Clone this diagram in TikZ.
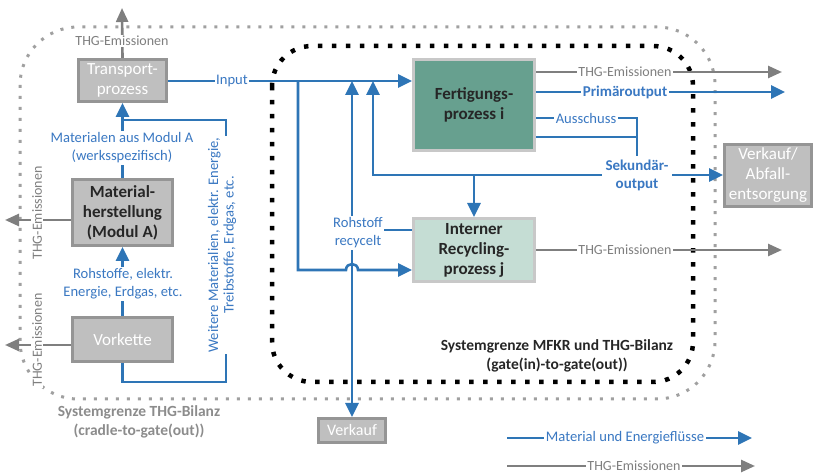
\documentclass[tikz,border=0pt]{standalone}
\usepackage{fontspec}
\setmainfont{Carlito}
\usetikzlibrary{arrows.meta}
\definecolor{fblue}{HTML}{2E75B6}
\definecolor{tblue}{HTML}{3A78C2}
\definecolor{lgray}{HTML}{7F7F7F}
\definecolor{dotgray}{HTML}{A0A0A0}
\definecolor{boxfill}{HTML}{BFBFBF}
\definecolor{boxedge}{HTML}{959595}
\definecolor{tealfill}{HTML}{67A08F}
\definecolor{mintfill}{HTML}{C5DDD4}
\definecolor{lightedge}{HTML}{C8C8C8}
\definecolor{darktext}{HTML}{262626}
\pgfdeclarelayer{back}
\pgfdeclarelayer{lines}
\pgfsetlayers{back,lines,main}
\begin{document}
\begin{tikzpicture}[x=1pt,y=-1pt,
  box/.style={line width=3pt, align=center, inner sep=0pt, font=\fontsize{17}{20}\selectfont},
  graybox/.style={box, draw=boxedge, fill=boxfill, text=white},
  matbox/.style={box, draw=boxedge, fill=boxfill, text=darktext, font=\fontsize{17}{20}\selectfont\bfseries},
  procbox/.style={box, draw=lightedge, text=darktext, font=\fontsize{17}{20}\selectfont\bfseries},
  bl/.style={draw=fblue, line width=2.6pt},
  gl/.style={draw=lgray, line width=2.6pt},
  barrow/.style={bl, -{Triangle[length=14pt,width=13pt]}},
  garrow/.style={gl, -{Triangle[length=14pt,width=12pt]}},
  blab/.style={fill=white, inner sep=1.5pt, text=tblue, align=center, font=\fontsize{14.6}{18}\selectfont},
  blabb/.style={blab, font=\fontsize{15}{18}\selectfont\bfseries},
  glab/.style={fill=white, inner sep=1.5pt, text=lgray, align=center, font=\fontsize{14}{17}\selectfont},
  bound/.style={align=center, font=\fontsize{15.5}{19}\selectfont\bfseries}
]
\useasboundingbox (0,0) rectangle (815,473);

% boundaries
\begin{pgfonlayer}{back}
\draw[dotgray, line width=3pt, dash pattern=on 3pt off 8pt, rounded corners=58pt] (20,27) rectangle (715,399);
\draw[black, line width=4.5pt, dash pattern=on 4.5pt off 9.5pt, rounded corners=40pt] (272,46) rectangle (693,382);
\end{pgfonlayer}

% boxes
\node[graybox, minimum width=88pt, minimum height=42pt] (tr) at (122.5,80.5) {Transport-\\prozess};
\node[matbox, minimum width=100pt, minimum height=66pt] (mh) at (122.5,212.5) {Material-\\herstellung\\(Modul A)};
\node[graybox, minimum width=100pt, minimum height=44pt] (vk) at (122.5,339.5) {Vorkette};
\node[procbox, fill=tealfill, minimum width=121pt, minimum height=91pt] (fp) at (474,105) {Fertigungs-\\prozess i};
\node[procbox, fill=mintfill, minimum width=121pt, minimum height=63pt] (rp) at (474,250) {Interner\\Recycling-\\prozess j};
\node[graybox, minimum width=87pt, minimum height=62pt] (va) at (768,175.5) {Verkauf/\\Abfall-\\entsorgung};
\node[graybox, minimum width=67pt, minimum height=24pt, font=\fontsize{16}{19}\selectfont] (vf) at (352,430.5) {Verkauf};

% labels
\node[glab] (thgt) at (122,41) {THG-Emissionen};
\node[glab, rotate=90] (thgm) at (37,213) {THG-Emissionen};
\node[glab, rotate=90] (thgv) at (37,340) {THG-Emissionen};
\node[blab] (ml) at (122,148) {Materialen aus Modul A\\(werksspezifisch)};
\node[blab] (rl) at (123,284) {Rohstoffe, elektr.\\Energie, Erdgas, etc.};
\node[blab, rotate=90, font=\fontsize{14.6}{15.5}\selectfont] (wl) at (222,245) {Weitere Materialien, elektr. Energie,\\Treibstoffe, Erdgas, etc.};
\node[blab] (in) at (232,81) {Input};
\node[blab] (rr) at (358,233) {Rohstoff\\recycelt};
\node[glab] (te1) at (625,72) {THG-Emissionen};
\node[blabb] (po) at (625,92) {Primäroutput};
\node[blab] (au) at (586,118) {Ausschuss};
\node[blabb, inner sep=4pt] (so) at (637,175) {Sekundär-\\output};
\node[glab] (te2) at (625,250) {THG-Emissionen};
\node[bound, text=lgray!90] (sg1) at (139,422) {Systemgrenze THG-Bilanz\\(cradle-to-gate(out))};
\node[bound, text=darktext] (sg2) at (557,356) {Systemgrenze MFKR und THG-Bilanz\\(gate(in)-to-gate(out))};
\node[blab] (L1) at (625,438) {Material und Energieflüsse};
\node[glab] (L2) at (634,466) {THG-Emissionen};

% coordinates
\coordinate (tEnd) at (122,8);
\coordinate (e1) at (5,220);
\coordinate (e2) at (5,345);
\coordinate (w1) at (122.5,382);
\coordinate (w2) at (226,382);
\coordinate (w3) at (226,120);
\coordinate (w4) at (122.5,120);
\coordinate (jA) at (298,81);
\coordinate (jB) at (298,270);
\coordinate (h1) at (346,270);
\coordinate (h2) at (358,270);
\coordinate (rU) at (352,81);
\coordinate (rM) at (352,233);
\coordinate (rY) at (380,230);
\coordinate (s1) at (373,175);
\coordinate (s2) at (373,81);
\coordinate (s3) at (474,175);
\coordinate (a1) at (637,118);
\coordinate (a2) at (637,137);
\coordinate (pe) at (785,92);
\coordinate (t1e) at (782,72);
\coordinate (t2e) at (782,250);
\coordinate (L1a) at (507,438);
\coordinate (L1b) at (752,438);
\coordinate (L2a) at (507,466);
\coordinate (L2b) at (755,466);

% connectors
\begin{pgfonlayer}{lines}
\draw[garrow] (tr.north) -- (tEnd);
\draw[garrow] (mh.west |- e1) -- (e1);
\draw[garrow] (vk.west |- e2) -- (e2);
\draw[bl] (vk.south) -- (w1) -- (w2) -- (w3) -- (w4);
\draw[barrow] (mh.north) -- (tr.south);
\draw[barrow] (vk.north) -- (mh.south);
\draw[barrow] (tr.east |- in) -- (fp.west |- in);
\draw[barrow] (jA) -- (jB) -- (h1) .. controls (346,262) and (358,262) .. (h2) -- (rp.west |- jB);
\draw[bl] (rp.west |- rY) -- (rY);
\draw[barrow] (rM) -- (rU);
\draw[barrow] (rM) -- (vf.north);
\draw[barrow] (so.center) -- (s1) -- (s2);
\draw[barrow] (s3) -- (rp.north);
\draw[barrow] (so.center) -- (va.west |- so.center);
\draw[bl] (fp.east |- a1) -- (a1) -- (so.center);
\draw[bl] (fp.east |- a2) -- (a2);
\draw[barrow] (fp.east |- pe) -- (pe);
\draw[garrow] (fp.east |- t1e) -- (t1e);
\draw[garrow] (rp.east |- t2e) -- (t2e);
\draw[barrow] (L1a) -- (L1b);
\draw[garrow] (L2a) -- (L2b);
\end{pgfonlayer}
\end{tikzpicture}
\end{document}
